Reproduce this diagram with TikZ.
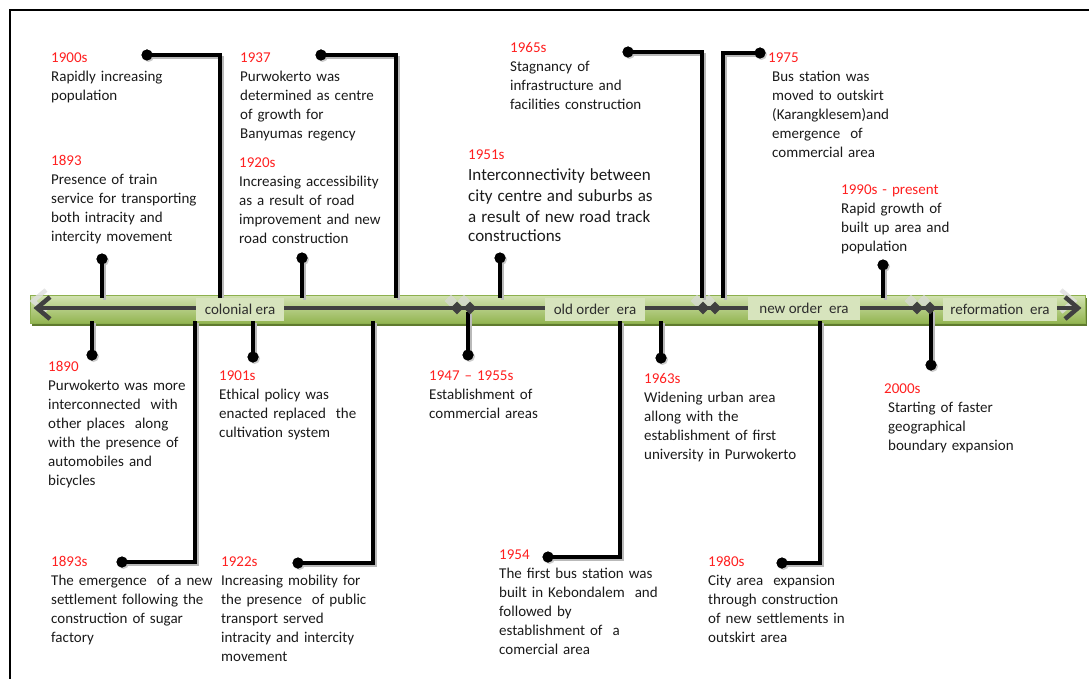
\documentclass[tikz,border=0pt]{standalone}
\usepackage{fontspec}
\setmainfont{Carlito}
\usetikzlibrary{shapes.geometric,shadows}
\definecolor{yr}{HTML}{FF1F1F}
\definecolor{txt}{HTML}{1A1A1A}
\definecolor{bartop}{HTML}{D3E3B3}
\definecolor{barbot}{HTML}{93B551}
\definecolor{baredge}{HTML}{8DB04E}
\definecolor{barshadow}{HTML}{5F7A2E}
\definecolor{axisc}{HTML}{404040}
\definecolor{erafill}{HTML}{D7E4BD}
\tikzset{
  evt/.style={anchor=base west, inner sep=0pt, align=left, text width=230pt,
    font=\fontsize{15}{19}\selectfont, text=txt},
  dotnode/.style={circle, fill=black, inner sep=0pt, minimum size=11pt,
    drop shadow={shadow xshift=1.5pt, shadow yshift=-1.5pt, opacity=0.4}},
  linkline/.style={line width=3.2pt, black},
  shadline/.style={line width=3.2pt, gray!55, transform canvas={xshift=2.2pt,yshift=-2.2pt}},
  era/.style={fill=erafill, inner sep=0pt, minimum height=23pt,
    font=\fontsize{15}{18}\selectfont, text=axisc!70!black},
  dmd/.style={diamond, fill=axisc, inner sep=0pt, minimum size=13pt},
  ghostdmd/.style={diamond, fill=gray!30, opacity=0.7, inner sep=0pt, minimum size=13pt},
  chev/.style={line width=4.5pt, line join=miter},
}
\newcommand\tllink[1]{\draw[shadline] #1; \draw[linkline] #1;}
\begin{document}
\begin{tikzpicture}[x=1pt,y=-1pt]
\useasboundingbox (0,0) rectangle (1089,679);
% frame (cropped at right and bottom)
\draw[line width=1.8pt, black] (10,679) -- (10,10) -- (1089,10);

% ---- timeline bar ----
\fill[barshadow] (32,298) rectangle (1087,326);
\shade[top color=bartop, bottom color=barbot, draw=baredge, line width=0.8pt] (30,295) rectangle (1085,323);
% ghost reflections
\draw[chev, gray!25, opacity=0.8] (46,290) -- (33,301) -- (46,312);
\draw[chev, gray!25, opacity=0.8] (1061,290) -- (1074,301) -- (1061,312);
\foreach \gx in {451,464,697,709,911,924} \node[ghostdmd] at (\gx,301) {};
% axis line with chevrons
\draw[axisc, line width=4.5pt] (40,308) -- (1075,308);
\draw[chev, axisc] (50,297) -- (37,308) -- (50,319);
\draw[chev, axisc] (1065,297) -- (1078,308) -- (1065,319);

% ---- attachment points on the bar ----
\coordinate (b1900) at (220,298);
\coordinate (b1893) at (102,298);
\coordinate (b1937) at (396,298);
\coordinate (b1920) at (302,298);
\coordinate (b1965) at (702,298);
\coordinate (b1951) at (500,298);
\coordinate (b1975) at (723,298);
\coordinate (b1990) at (883,298);
\coordinate (b1890) at (92,321);
\coordinate (b1893s) at (195,321);
\coordinate (b1901) at (253,321);
\coordinate (b1922) at (373,321);
\coordinate (b1947) at (468,312);
\coordinate (b1954) at (620,321);
\coordinate (b1963) at (661,321);
\coordinate (b1980) at (820,321);
\coordinate (b2000) at (931,310);

% ---- dots ----
\node[dotnode] (d1900) at (147,55) {};
\node[dotnode] (d1893) at (102,259) {};
\node[dotnode] (d1937) at (321,55) {};
\node[dotnode] (d1920) at (302,258) {};
\node[dotnode] (d1965) at (628,52) {};
\node[dotnode] (d1951) at (500,258) {};
\node[dotnode] (d1975) at (760,53) {};
\node[dotnode] (d1990) at (883,265) {};
\node[dotnode] (d1890) at (92,355) {};
\node[dotnode] (d1893s) at (122,562) {};
\node[dotnode] (d1901) at (253,357) {};
\node[dotnode] (d1922) at (298,563) {};
\node[dotnode] (d1947) at (468,355) {};
\node[dotnode] (d1954) at (548,557) {};
\node[dotnode] (d1963) at (661,358) {};
\node[dotnode] (d1980) at (782,563) {};
\node[dotnode] (d2000) at (931,365) {};

% ---- connectors ----
\tllink{(d1900.center) -| (b1900)}
\tllink{(d1893.center) -- (b1893)}
\tllink{(d1937.center) -| (b1937)}
\tllink{(d1920.center) -- (b1920)}
\tllink{(d1965.center) -| (b1965)}
\tllink{(d1951.center) -- (b1951)}
\tllink{(d1975.center) -| (b1975)}
\tllink{(d1990.center) -- (b1990)}
\tllink{(d1890.center) -- (b1890)}
\tllink{(d1893s.center) -| (b1893s)}
\tllink{(d1901.center) -- (b1901)}
\tllink{(d1922.center) -| (b1922)}
\tllink{(d1947.center) -- (b1947)}
\tllink{(d1954.center) -| (b1954)}
\tllink{(d1963.center) -- (b1963)}
\tllink{(d1980.center) -| (b1980)}
\tllink{(d2000.center) -- (b2000)}

% redraw dots on top of the lines
\foreach \d in {d1900,d1893,d1937,d1920,d1965,d1951,d1975,d1990,d1890,d1893s,d1901,d1922,d1947,d1954,d1963,d1980,d2000}
  \fill[black] (\d.center) circle (5.5pt);

% diamonds
\node[dmd] (m1) at (457,308) {};
\node[dmd] (m2) at (470,308) {};
\node[dmd] (m3) at (703,308) {};
\node[dmd] (m4) at (715,308) {};
\node[dmd] (m5) at (917,308) {};
\node[dmd] (m6) at (930,308) {};

% era labels
\node[era, minimum width=88pt] (e1) at (240,309) {colonial era};
\node[era, minimum width=100pt] (e2) at (595,309) {old order~ era};
\node[era, minimum width=112pt] (e3) at (804,308) {new order~ era};
\node[era, minimum width=114pt] (e4) at (1000,309) {reformation~ era};

% ---- texts above ----
\node[evt] (t1900) at (51,63) {\textcolor{yr}{1900s}\\Rapidly increasing\\population};
\node[evt] (t1893) at (51,166) {\textcolor{yr}{1893}\\Presence of train\\service for transporting\\both intracity and\\intercity movement};
\node[evt] (t1937) at (240,63) {\textcolor{yr}{1937}\\Purwokerto was\\determined as centre\\of growth for\\Banyumas regency};
\node[evt] (t1920) at (239,168) {\textcolor{yr}{1920s}\\Increasing accessibility\\as a result of road\\improvement and new\\road construction};
\node[evt] (t1965) at (510,53) {\textcolor{yr}{1965s}\\Stagnancy of\\infrastructure and\\facilities construction};
\node[evt] (t1951) at (468,160) {\textcolor{yr}{1951s}\\\fontsize{17}{21}\selectfont Interconnectivity between\\city centre and suburbs as\\a result of new road track\\constructions};
\node[evt] (t1975) at (768,63) {\textcolor{yr}{1975}\\\hspace*{4pt}Bus station was\\\hspace*{4pt}moved to outskirt\\\hspace*{4pt}(Karangklesem)and\\\hspace*{4pt}emergence~ of\\\hspace*{4pt}commercial area};
\node[evt] (t1990) at (841,194) {\textcolor{yr}{1990s - present}\\Rapid growth of\\built up area and\\population};

% ---- texts below ----
\node[evt] (t1890) at (48,371) {\textcolor{yr}{1890}\\Purwokerto was more\\interconnected~ with\\other places~ along\\with the presence of\\automobiles and\\bicycles};
\node[evt] (t1893s) at (51,566) {\textcolor{yr}{1893s}\\The emergence~ of a new\\settlement following the\\construction of sugar\\factory};
\node[evt] (t1901) at (219,380) {\textcolor{yr}{1901s}\\Ethical policy was\\enacted replaced~ the\\cultivation system};
\node[evt] (t1922) at (221,566) {\textcolor{yr}{1922s}\\Increasing mobility for\\the presence~ of public\\transport served\\intracity and intercity\\movement};
\node[evt] (t1947) at (429,380) {\textcolor{yr}{1947 – 1955s}\\Establishment of\\commercial areas};
\node[evt] (t1954) at (499,559) {\textcolor{yr}{1954}\\The first bus station was\\built in Kebondalem~ and\\followed by\\establishment of~ a\\comercial area};
\node[evt] (t1963) at (644,383) {\textcolor{yr}{1963s}\\Widening urban area\\allong with the\\establishment of first\\university in Purwokerto};
\node[evt] (t1980) at (708,566) {\textcolor{yr}{1980s}\\City area~ expansion\\through construction\\of new settlements in\\outskirt area};
\node[evt] (t2000) at (884,393) {\textcolor{yr}{2000s}\\\hspace*{4pt}Starting of faster\\\hspace*{4pt}geographical\\\hspace*{4pt}boundary expansion};
\end{tikzpicture}
\end{document}
